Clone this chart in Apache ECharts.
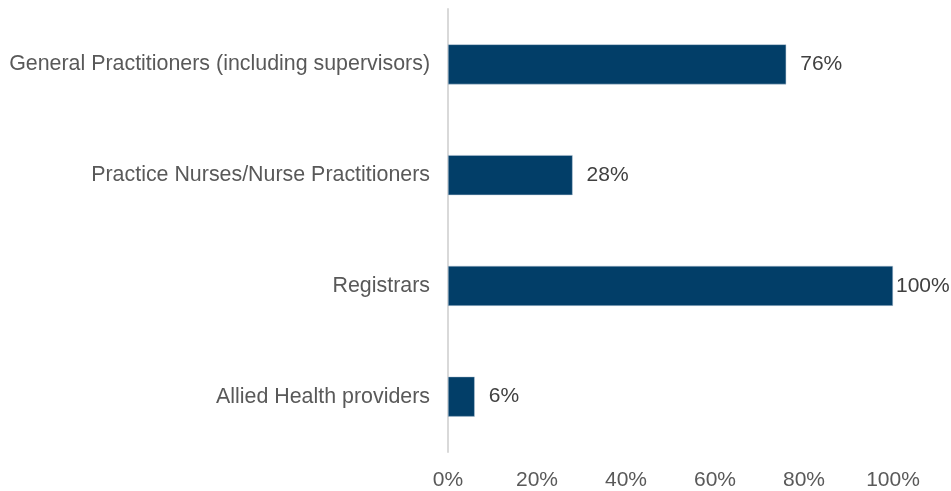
<!DOCTYPE html>
<html>
<head>
<meta charset="utf-8">
<script src="https://cdn.jsdelivr.net/npm/echarts@6/dist/echarts.min.js"></script>
<style>
  html, body { margin: 0; padding: 0; background: #fff; }
  #chart { width: 951px; height: 491px; }
</style>
</head>
<body>
<div id="chart"></div>
<script>
// categories listed top to bottom
var categories = [
  'General Practitioners (including supervisors)',
  'Practice Nurses/Nurse Practitioners',
  'Registrars',
  'Allied Health providers'
];
var values = [76, 28, 100, 6];

var chart = echarts.init(document.getElementById('chart'));

// the full-width bar keeps its label tight against the bar end, like the original
var barData = values.map(function (v) {
  return v >= 100 ? { value: v, label: { distance: 3 } } : v;
});

chart.setOption({
  animation: false,
  textStyle: { fontFamily: 'Liberation Sans, Arial, sans-serif' },
  grid: { left: 448, right: 58, top: 9, bottom: 35, containLabel: false },
  xAxis: {
    type: 'value',
    min: 0,
    max: 100,
    interval: 20,
    axisLine: { show: false },
    axisTick: { show: false },
    splitLine: { show: false },
    axisLabel: {
      formatter: '{value}%',
      color: '#595959',
      fontSize: 21,
      margin: 18
    }
  },
  yAxis: {
    type: 'category',
    data: categories,
    inverse: true,
    axisLine: { show: true, lineStyle: { color: '#d9d9d9', width: 2 } },
    axisTick: { show: false },
    axisLabel: { color: '#595959', fontSize: 21.4, margin: 18 }
  },
  series: [{
    type: 'bar',
    data: barData,
    barWidth: 40,
    itemStyle: { color: '#023e68', borderColor: '#b8c8d8', borderWidth: 0.5 },
    label: {
      show: true,
      position: 'right',
      formatter: '{c}%',
      color: '#404040',
      fontSize: 21,
      distance: 14
    }
  }]
});
</script>
</body>
</html>
